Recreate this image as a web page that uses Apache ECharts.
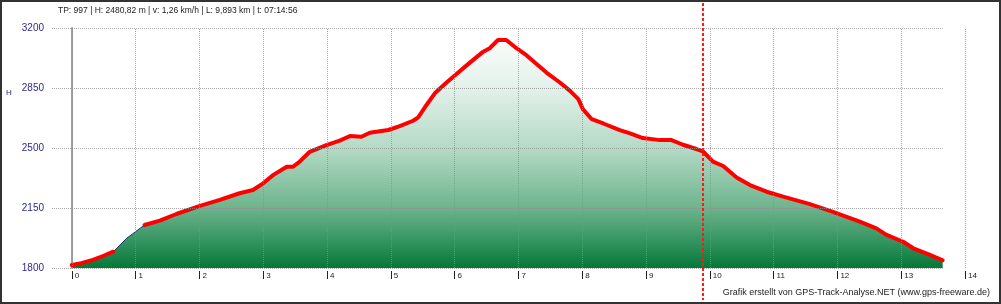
<!DOCTYPE html>
<html><head><meta charset="utf-8">
<script src="https://cdn.jsdelivr.net/npm/echarts@6/dist/echarts.min.js"></script>
<style>html,body{margin:0;padding:0;background:#fff}#c{width:1001px;height:304px}</style>
</head><body><div id="c"></div>
<script>
// ---- data ----
const distKm = [0.00,0.15,0.33,0.49,0.65,0.86,1.14,1.38,1.64,2.01,2.32,2.63,2.84,3.00,3.16,3.37,3.47,3.57,3.73,3.99,4.20,4.36,4.54,4.67,4.96,5.14,5.35,5.43,5.56,5.69,5.87,6.03,6.24,6.45,6.55,6.68,6.81,6.97,7.13,7.23,7.44,7.65,7.81,7.94,8.01,8.15,8.33,8.59,8.75,8.95,9.22,9.40,9.58,9.79,9.89,10.05,10.21,10.42,10.63,10.89,11.15,11.57,11.93,12.35,12.61,12.77,13.03,13.19,13.45,13.65];
const elevM  = [1817,1828,1847,1870,1895,1973,2051,2076,2115,2162,2197,2236,2255,2294,2343,2391,2391,2420,2478,2517,2543,2570,2566,2589,2605,2628,2659,2679,2751,2819,2881,2932,2998,3062,3082,3130,3130,3082,3040,3008,2940,2882,2833,2785,2727,2668,2643,2604,2585,2558,2546,2546,2519,2494,2481,2420,2395,2328,2284,2245,2216,2173,2128,2070,2031,1993,1953,1915,1876,1845];
const xTicks = [0,1,2,3,4,5,6,7,8,9,10,11,12,13,14];
const yTicks = [1800,2150,2500,2850,3200];
const redGapKm = [0.7, 1.1];
const cursorKm = 9.893;
const headerText = 'TP: 997 | H: 2480,82 m | v: 1,26 km/h | L: 9,893 km | t: 07:14:56';
const creditText = 'Grafik erstellt von GPS-Track-Analyse.NET (www.gps-freeware.de)';
const yName = 'H';

// ---- chart ----
const X_MIN = -0.31;
const FONT = '"Liberation Sans", Arial, sans-serif';
const pts = distKm.map((d, i) => [d, elevM[i]]);
const redPts = distKm.map((d, i) => [d, (d > redGapKm[0] && d < redGapKm[1]) ? null : elevM[i]]);
const lastKm = distKm[distKm.length - 1];

const gridLines = xTicks.map(v => ({ xAxis: v }))
  .concat(yTicks.map(v => [{ coord: [X_MIN, v] }, { coord: [lastKm, v] }]));

const chart = echarts.init(document.getElementById('c'), null, { renderer: 'canvas' });
chart.setOption({
  animation: false,
  backgroundColor: '#ffffff',
  grid: { left: 52, right: 36, top: 28, bottom: 36 },
  xAxis: {
    type: 'value', min: X_MIN, max: 14, offset: 3,
    axisLine: { show: false },
    splitLine: { show: false },
    axisTick: { show: true, customValues: xTicks, length: 8, lineStyle: { color: '#222', width: 1 } },
    axisLabel: { customValues: xTicks, align: 'left', padding: [0, 0, 0, 3], margin: 1,
      fontSize: 8, color: '#222', fontFamily: FONT, formatter: v => String(v) }
  },
  yAxis: {
    type: 'value', min: 1800, max: 3200, interval: 350,
    axisLine: { show: true, lineStyle: { color: '#a0a0a0', width: 2 } },
    axisTick: { show: false },
    splitLine: { show: false },
    axisLabel: { margin: 8, fontSize: 10, color: '#2b2b8c', fontFamily: FONT, formatter: v => String(v) }
  },
  series: [
    {
      type: 'line', data: pts, symbol: 'none', z: 2,
      lineStyle: { color: '#1c3570', width: 1 },
      areaStyle: {
        opacity: 1,
        color: { type: 'linear', x: 0, y: 28, x2: 0, y2: 268, global: true,
          colorStops: [
            { offset: 0, color: '#ffffff' },
            { offset: 0.25, color: '#e3f1ea' },
            { offset: 0.5, color: '#b5dac6' },
            { offset: 0.75, color: '#6db48c' },
            { offset: 0.9, color: '#2f915c' },
            { offset: 1, color: '#057838' }
          ] }
      },
      markLine: {
        silent: true, symbol: 'none', label: { show: false },
        lineStyle: { color: 'rgba(140,140,140,0.75)', type: [1, 1], width: 1 },
        emphasis: { disabled: true },
        data: gridLines
      }
    },
    {
      type: 'line', data: redPts, symbol: 'none', z: 3, connectNulls: false,
      lineStyle: { color: '#ff0000', width: 4, cap: 'round', join: 'round' }
    }
  ]
});

const cx = Math.round(chart.convertToPixel({ xAxisIndex: 0 }, cursorKm));
chart.setOption({
  series: [
    {},
    {
      markLine: {
        silent: true, symbol: 'none', label: { show: false }, z: 10,
        emphasis: { disabled: true },
        lineStyle: { color: '#ff1a1a', type: [3, 2], width: 2, opacity: 1 },
        data: [[{ x: cx, y: 3 }, { x: cx, y: 300 }]]
      }
    }
  ],
  graphic: [
    { type: 'text', x: 58, y: 11, style: { text: headerText, fill: '#222', font: '8.5px ' + FONT, align: 'left', verticalAlign: 'middle' } },
    { type: 'text', x: 6, y: 93, style: { text: yName, fill: '#2b2b8c', font: '8px ' + FONT, align: 'left', verticalAlign: 'middle' } },
    { type: 'text', x: 990, y: 293, style: { text: creditText, fill: '#222', font: '9px ' + FONT, align: 'right', verticalAlign: 'middle' } },
    { type: 'rect', z: 20, shape: { x: 1, y: 1, width: 999, height: 302 },
      style: { fill: 'none', stroke: '#333', lineWidth: 2 } }
  ]
});
</script></body></html>
